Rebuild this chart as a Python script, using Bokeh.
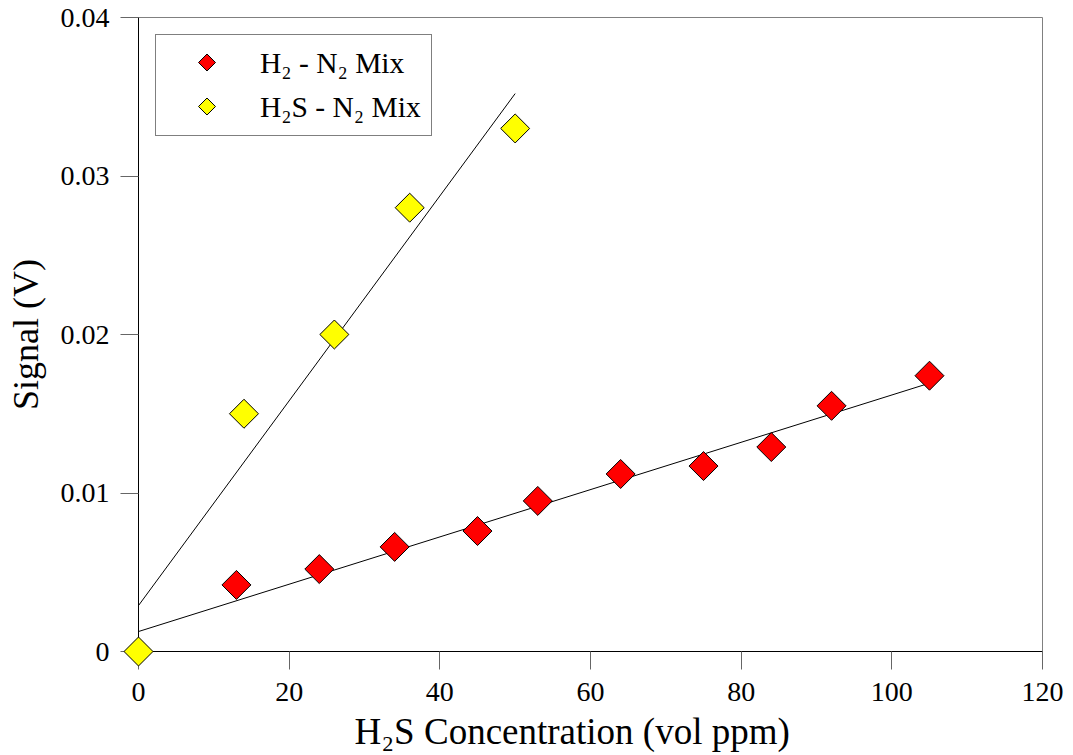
import math
from bokeh.plotting import figure
from bokeh.models import Range1d, Legend, LegendItem, Title
from bokeh.embed import file_html
from bokeh.resources import INLINE

# Data
h2_x = [13, 24, 34, 45, 53, 64, 75, 84, 92, 105]
h2_y = [0.0042, 0.0052, 0.0066, 0.0076, 0.0095, 0.0112, 0.0117, 0.0129, 0.0155, 0.0174]
h2s_x = [0, 14, 26, 36, 50]
h2s_y = [0.0, 0.0150, 0.0200, 0.0280, 0.0330]
h2_fit_x = [0, 105]
h2_fit_y = [0.00126, 0.01693]
h2s_fit_x = [0, 50]
h2s_fit_y = [0.0029, 0.0352]

series_labels = ["H\u2082 - N\u2082 Mix", "H\u2082S - N\u2082 Mix"]
series_colors = ["#ff0000", "#ffff00"]

x_ticks = [0, 20, 40, 60, 80, 100, 120]
y_ticks = [0, 0.01, 0.02, 0.03, 0.04]
y_tick_labels = {0: "0", 0.01: "0.01", 0.02: "0.02", 0.03: "0.03", 0.04: "0.04"}

FONT = "Liberation Serif"
X0, X1, Y0, Y1 = 0, 120, 0, 0.04
FW, FH = 904, 634

p = figure(frame_width=FW, frame_height=FH, output_backend="svg", toolbar_location=None,
           x_range=Range1d(X0, X1), y_range=Range1d(Y0, Y1),
           min_border_left=138, min_border_right=31, min_border_top=17, min_border_bottom=100)
p.background_fill_color = "white"
p.border_fill_color = "white"
p.outline_line_color = "#808080"
p.xgrid.visible = False
p.ygrid.visible = False

for ax in (p.xaxis[0], p.yaxis[0]):
    ax.axis_line_color = "black"
    ax.major_tick_line_color = "#666666"
    ax.minor_tick_line_color = "#666666"
    ax.major_tick_in = 0
    ax.major_tick_out = 18
    ax.minor_tick_in = 0
    ax.minor_tick_out = 9
    ax.major_label_text_font = FONT
    ax.major_label_text_font_size = "28px"
    ax.major_label_text_color = "black"
    ax.axis_label_text_font = FONT
    ax.axis_label_text_font_size = "36px"
    ax.axis_label_text_font_style = "normal"
    ax.axis_label_text_color = "black"

p.xaxis.ticker = x_ticks
p.xaxis[0].ticker.num_minor_ticks = 2
p.yaxis.ticker = y_ticks
p.yaxis[0].ticker.num_minor_ticks = 2
p.yaxis.major_label_overrides = y_tick_labels
p.xaxis.major_label_standoff = 13
p.yaxis.major_label_standoff = 11
p.yaxis.axis_label = "Signal (V)"
p.yaxis.axis_label_standoff = 12

p.add_layout(Title(text="H\u2082S Concentration (vol ppm)", align="left", offset=216,
                   text_font=FONT, text_font_size="37px", text_font_style="normal",
                   text_color="black"), "below")

p.line(h2_fit_x, h2_fit_y, line_color="black", line_width=1)
p.line(h2s_fit_x, h2s_fit_y, line_color="black", line_width=1)

p.scatter(h2_x, h2_y, marker="square", size=20.5, angle=math.pi / 4,
          fill_color=series_colors[0], line_color="black", line_width=1, level="overlay")
p.scatter(h2s_x, h2s_y, marker="square", size=20.5, angle=math.pi / 4,
          fill_color=series_colors[1], line_color="black", line_width=1, level="overlay")

# Legend: text and box from Bokeh's Legend, rotated-square symbols drawn with it
MARGIN, PAD, GW, GH, SPACING = 17, 10, 83, 36, 8
dummies = [p.scatter([], [], marker="square", fill_alpha=0, line_alpha=0) for _ in series_labels]
legend = Legend(items=[LegendItem(label=lab, renderers=[r]) for lab, r in zip(series_labels, dummies)],
                location="top_left", margin=MARGIN, padding=PAD, spacing=SPACING,
                glyph_width=GW, glyph_height=GH, label_standoff=11, label_height=GH,
                label_text_font=FONT, label_text_font_size="29.5px", label_text_color="black",
                border_line_color="black", border_line_width=1,
                background_fill_alpha=0.0)
p.add_layout(legend, "center")

sym_px_x = MARGIN + PAD + GW / 2
sym_px_y = [MARGIN + PAD + GH / 2 + i * (GH + SPACING) for i in range(len(series_labels))]
sym_x = [X0 + sym_px_x / FW * (X1 - X0) for _ in series_labels]
sym_y = [Y1 - py / FH * (Y1 - Y0) for py in sym_px_y]
p.scatter(x=sym_x, y=sym_y, marker="square", size=12, angle=math.pi / 4,
          fill_color=series_colors, line_color="black", line_width=1)

open("out.html", "w").write(file_html(p, INLINE))
